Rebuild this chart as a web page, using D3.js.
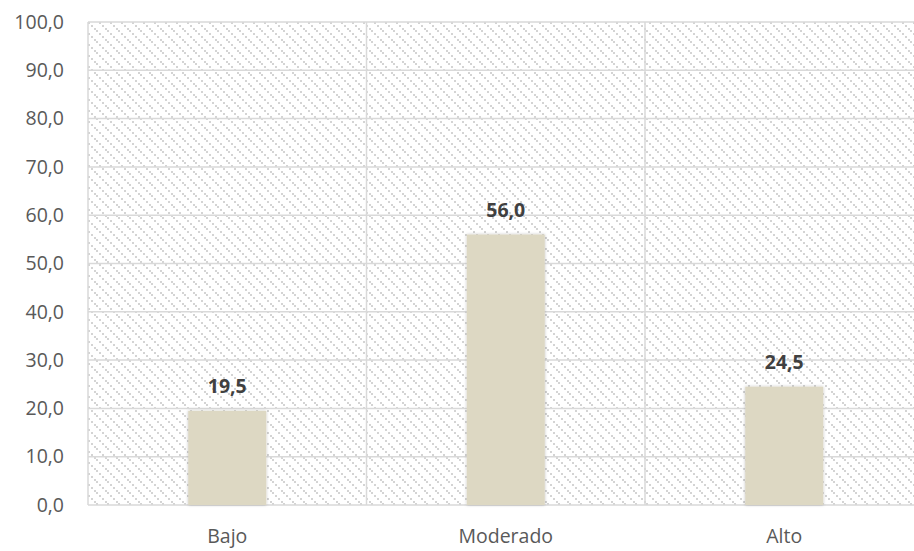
<!DOCTYPE html>
<html><head><meta charset="utf-8">
<script src="https://cdn.jsdelivr.net/npm/d3@7"></script>
<style>body{margin:0;background:#fff}svg{display:block}</style>
</head><body>
<svg id="c" width="914" height="551"></svg>
<script>
const categories = ["Bajo", "Moderado", "Alto"];
const values = [19.5, 56.0, 24.5];
const yTicks = [0, 10, 20, 30, 40, 50, 60, 70, 80, 90, 100];

const svg = d3.select("#c");
const m = {left: 88, top: 22, bottom: 505, right: 923.5};
const font = "'Open Sans', sans-serif";
const fmt = v => v.toFixed(1).replace(".", ",");

const defs = svg.append("defs");
const P = 11;
const pat = defs.append("pattern").attr("id", "hatch").attr("patternUnits", "userSpaceOnUse")
  .attr("width", P).attr("height", P).attr("x", m.left).attr("y", m.top);
pat.append("rect").attr("width", P).attr("height", P).attr("fill", "#fff");
[[0,0],[3,3],[6,6],[8,8]].forEach(([a,b]) => pat.append("rect").attr("x", a).attr("y", b).attr("width", 2).attr("height", 2).attr("fill", "#d4d4d4"));
const flt = defs.append("filter").attr("id", "sh").attr("x", "-20%").attr("y", "-20%").attr("width", "140%").attr("height", "140%");
flt.append("feDropShadow").attr("dx", 0).attr("dy", 0).attr("stdDeviation", 1.5).attr("flood-color", "#000").attr("flood-opacity", 0.25);

const x = d3.scaleBand().domain(categories).range([m.left, m.right]).paddingInner(0).paddingOuter(0);
const y = d3.scaleLinear().domain([0, 100]).range([m.bottom, m.top]);

svg.append("rect").attr("x", m.left).attr("y", m.top).attr("width", m.right - m.left).attr("height", m.bottom - m.top)
  .attr("fill", "url(#hatch)");

svg.append("g").selectAll("line").data(yTicks).join("line")
  .attr("x1", m.left).attr("x2", m.right).attr("y1", d => y(d)).attr("y2", d => y(d))
  .attr("stroke", "#d9d9d9").attr("stroke-width", 1.5);
const bounds = categories.map(c => x(c)).concat([m.right]);
svg.append("g").selectAll("line").data(bounds).join("line")
  .attr("x1", d => d).attr("x2", d => d).attr("y1", m.top).attr("y2", m.bottom)
  .attr("stroke", "#d9d9d9").attr("stroke-width", 1.5);

const yAxis = d3.axisLeft(y).tickValues(yTicks).tickFormat(fmt).tickSize(0).tickPadding(24);
const ya = svg.append("g").attr("transform", `translate(${m.left},0)`).call(yAxis);
ya.select(".domain").remove();
ya.selectAll("text").attr("font-family", font).attr("font-size", 19.5).attr("fill", "#595959");

const xAxis = d3.axisBottom(x).tickSize(0).tickPadding(24);
const xa = svg.append("g").attr("transform", `translate(0,${m.bottom})`).call(xAxis);
xa.select(".domain").remove();
xa.selectAll("text").attr("font-family", font).attr("font-size", 19.5).attr("fill", "#595959");

const bw = 78;
svg.append("g").selectAll("rect").data(values).join("rect")
  .attr("x", (d, i) => x(categories[i]) + x.bandwidth() / 2 - bw / 2)
  .attr("width", bw)
  .attr("y", d => y(d)).attr("height", d => y(0) - y(d))
  .attr("fill", "#ddd8c3").attr("filter", "url(#sh)");

svg.append("g").selectAll("text").data(values).join("text")
  .attr("x", (d, i) => x(categories[i]) + x.bandwidth() / 2)
  .attr("y", d => y(d) - 18)
  .attr("text-anchor", "middle")
  .attr("font-family", font).attr("font-size", 19.5).attr("font-weight", "bold").attr("fill", "#404040")
  .text(fmt);
</script>
</body></html>
